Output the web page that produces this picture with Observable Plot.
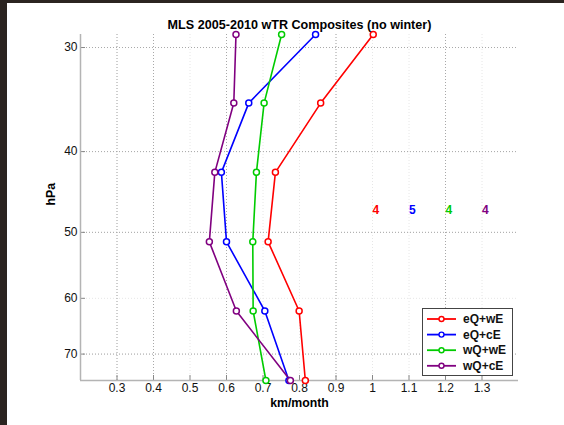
<!DOCTYPE html>
<html><head><meta charset="utf-8">
<script src="https://cdn.jsdelivr.net/npm/d3@7"></script>
<script src="https://cdn.jsdelivr.net/npm/@observablehq/plot@0.6"></script>
<style>
html,body{margin:0;padding:0;background:#fff;}
body{width:564px;height:425px;overflow:hidden;font-family:"Liberation Sans",Arial,Helvetica,sans-serif;}
#wrap{border-left:7px solid #2b2420;border-top:3px solid #2b2420;width:557px;height:422px;}
#wrap svg{display:block;}
#legend{position:absolute;left:422px;top:308px;width:89px;height:66px;border:1px solid #444;background:#fff;box-sizing:content-box;}
#legend svg{display:block;}
</style></head><body>
<div id="wrap"></div>
<div id="legend"></div>
<script>
// pressure levels (hPa), top to bottom
const pressure = [28.94, 34.98, 42.36, 51.33, 62.14, 75.30];
// series values (km/month)
const eQwE = [1.002, 0.858, 0.734, 0.714, 0.799, 0.816];
const eQcE = [0.844, 0.661, 0.586, 0.600, 0.705, 0.771];
const wQwE = [0.751, 0.703, 0.682, 0.672, 0.673, 0.708];
const wQcE = [0.626, 0.620, 0.568, 0.553, 0.627, 0.775];
const seriesNames = ["eQ+wE", "eQ+cE", "wQ+wE", "wQ+cE"];
const seriesColors = ["#ff0000", "#0000ff", "#00cc00", "#800080"];
// composite counts annotation
const countLabels = ["4", "5", "4", "4"];
const countX = [1.0, 1.1, 1.2, 1.3];
const countP = 47;
// axes
const xDomain = [0.2, 1.4];
const xTicks = [0.3, 0.4, 0.5, 0.6, 0.7, 0.8, 0.9, 1, 1.1, 1.2, 1.3];
const yTicks = [30, 40, 50, 60, 70];
const xGridStrong = [0.3, 0.4, 0.6, 0.9, 1.2];
const yGridStrong = [30, 40, 50, 70];
const titleText = "MLS 2005-2010 wTR Composites (no winter)";
const xLabel = "km/month";
const yLabel = "hPa";

const seriesValues = [eQwE, eQcE, wQwE, wQcE];
const rows = [];
seriesNames.forEach((s, k) => pressure.forEach((p, i) => rows.push({s, p, v: seriesValues[k][i]})));
const yDomain = d3.extent(pressure);

const W = 557, H = 422, mL = 73, mR = 46, mT = 31, mB = 45;
const font = "Liberation Sans, Arial, Helvetica, sans-serif";

const chart = Plot.plot({
  width: W, height: H,
  marginLeft: mL, marginRight: mR, marginTop: mT, marginBottom: mB,
  style: {fontFamily: font, fontSize: "12px", color: "#111", background: "transparent", overflow: "visible"},
  x: {domain: xDomain},
  y: {type: "log", domain: yDomain, reverse: true},
  color: {domain: seriesNames, range: seriesColors},
  marks: [
    Plot.gridX(xTicks, {stroke: "#e6e6e6", strokeOpacity: 1, strokeDasharray: "1,2"}),
    Plot.gridY(yTicks, {stroke: "#e6e6e6", strokeOpacity: 1, strokeDasharray: "1,2"}),
    Plot.gridX(xGridStrong, {stroke: "#a8a8a8", strokeOpacity: 1, strokeDasharray: "1,2"}),
    Plot.gridY(yGridStrong, {stroke: "#a8a8a8", strokeOpacity: 1, strokeDasharray: "1,2"}),
    Plot.tickX(xTicks, {x: d => d, insetTop: H - mT - mB - 5, stroke: "#888"}),
    Plot.tickY(yTicks, {y: d => d, insetRight: W - mL - mR - 5, stroke: "#888"}),
    Plot.ruleX([xDomain[0]], {stroke: "#b4b4b4", strokeWidth: 1.5}),
    Plot.ruleY([yDomain[1]], {stroke: "#b4b4b4", strokeWidth: 1.5}),
    Plot.axisX(xTicks, {tickSize: 0, tickPadding: 3, tickFormat: d => String(d), label: null, fontSize: 12}),
    Plot.axisY(yTicks, {tickSize: 0, tickPadding: 3, tickFormat: d => String(d), label: null, fontSize: 12}),
    Plot.line(rows, {x: "v", y: "p", z: "s", stroke: "s", strokeWidth: 1.6}),
    Plot.dot(rows, {x: "v", y: "p", stroke: "s", fill: "white", r: 3, strokeWidth: 1.5}),
    Plot.text(countLabels, {x: (d, i) => countX[i], y: () => countP, text: d => d, fill: (d, i) => seriesNames[i], textAnchor: "start", fontWeight: "bold", fontSize: 12}),
    Plot.text([titleText], {frameAnchor: "top", dy: -14, text: d => d, fontWeight: "bold", fontSize: 12.6, fill: "#000"}),
    Plot.text([xLabel], {frameAnchor: "bottom", dy: 26, text: d => d, fontWeight: "bold", fontSize: 12.3, fill: "#000"}),
    Plot.text([yLabel], {frameAnchor: "left", dx: -29, dy: -2, rotate: -90, text: d => d, fontWeight: "bold", fontSize: 12.3, fill: "#000"})
  ]
});
document.getElementById("wrap").appendChild(chart);

// legend
const lg = d3.select("#legend").append("svg").attr("width", 89).attr("height", 66)
  .style("font-family", font);
seriesNames.forEach((s, i) => {
  const cy = 10 + i * 15.6;
  lg.append("line").attr("x1", 4).attr("x2", 33).attr("y1", cy).attr("y2", cy)
    .attr("stroke", seriesColors[i]).attr("stroke-width", 1.8);
  lg.append("circle").attr("cx", 18.5).attr("cy", cy).attr("r", 2.5)
    .attr("fill", "white").attr("stroke", seriesColors[i]).attr("stroke-width", 1.4);
  lg.append("text").attr("x", 40).attr("y", cy).attr("dy", "0.35em")
    .attr("font-size", 12).attr("font-weight", "bold").attr("fill", "#111").text(s);
});
</script>
</body></html>
